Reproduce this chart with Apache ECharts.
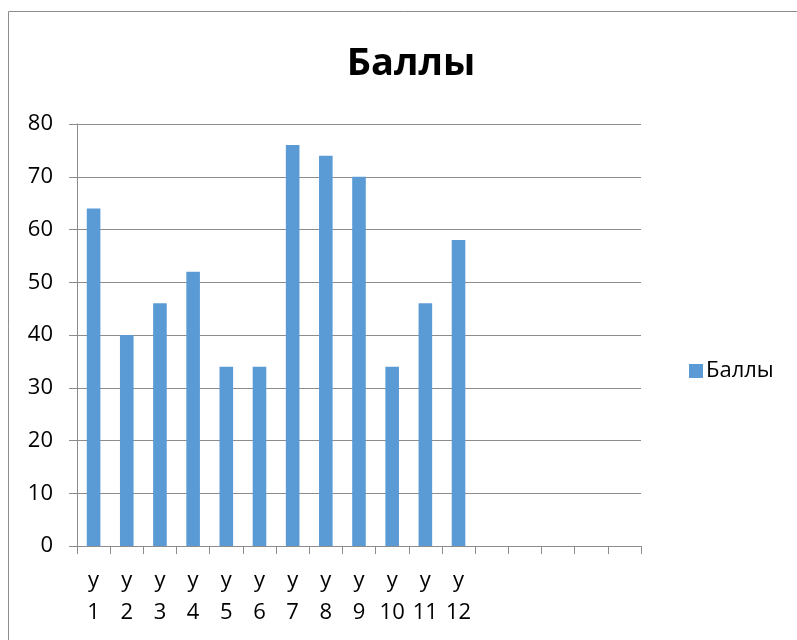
<!DOCTYPE html>
<html>
<head>
<meta charset="utf-8">
<script src="https://cdn.jsdelivr.net/npm/echarts@6/dist/echarts.min.js"></script>
<style>
  html, body { margin: 0; padding: 0; background: #fff; }
  #main { width: 797px; height: 640px; }
</style>
</head>
<body>
<div id="main"></div>
<script>
// категории: 12 учеников + 5 пустых мест на оси
const categories = ['у 1', 'у 2', 'у 3', 'у 4', 'у 5', 'у 6', 'у 7', 'у 8', 'у 9', 'у 10', 'у 11', 'у 12', '', '', '', '', ''];
const scores = [64, 40, 46, 52, 34, 34, 76, 74, 70, 34, 46, 58, null, null, null, null, null];
const seriesName = 'Баллы';

const myChart = echarts.init(document.getElementById('main'));
const font = '"Open Sans", "Liberation Sans", sans-serif';

const option = {
  animation: false,
  title: {
    text: 'Баллы',
    left: 406,
    textAlign: 'center',
    top: 40,
    textStyle: { fontFamily: font, fontSize: 38, fontWeight: 'bold', color: '#000' },
  },
  legend: {
    data: [seriesName],
    left: 684,
    top: 355,
    itemWidth: 14,
    itemHeight: 14,
    itemGap: 6,
    icon: 'rect',
    textStyle: { fontFamily: font, fontSize: 22, color: '#000', padding: [0, 0, 0, -2] },
  },
  graphic: [{
    type: 'rect',
    shape: { x: 8.5, y: 11.5, width: 820, height: 660 },
    style: { fill: 'none', stroke: '#8c8c8c', lineWidth: 1 },
    silent: true,
  }],
  grid: { left: 77, right: 156, top: 124, bottom: 94 },
  xAxis: {
    type: 'category',
    data: categories,
    boundaryGap: true,
    axisLine: { lineStyle: { color: '#8c8c8c', width: 1 } },
    axisTick: { show: true, alignWithLabel: false, length: 8, lineStyle: { color: '#8c8c8c' } },
    axisLabel: {
      interval: 0,
      margin: 19,
      lineHeight: 32,
      fontFamily: font,
      fontSize: 22,
      color: '#000',
      formatter: (v) => v.replace(' ', '\n'),
    },
  },
  yAxis: {
    type: 'value',
    min: 0,
    max: 80,
    interval: 10,
    axisLine: { show: true, lineStyle: { color: '#8c8c8c', width: 1 } },
    axisTick: { show: true, length: 8, lineStyle: { color: '#8c8c8c' } },
    splitLine: { lineStyle: { color: '#8c8c8c', width: 1 } },
    axisLabel: { margin: 24, fontFamily: font, fontSize: 22, color: '#000' },
  },
  series: [{
    name: seriesName,
    type: 'bar',
    data: scores,
    barWidth: '41%',
    itemStyle: { color: '#5b9bd5' },
  }],
};

if (option && typeof option === 'object') {
  myChart.setOption(option, true);
}
</script>
</body>
</html>
